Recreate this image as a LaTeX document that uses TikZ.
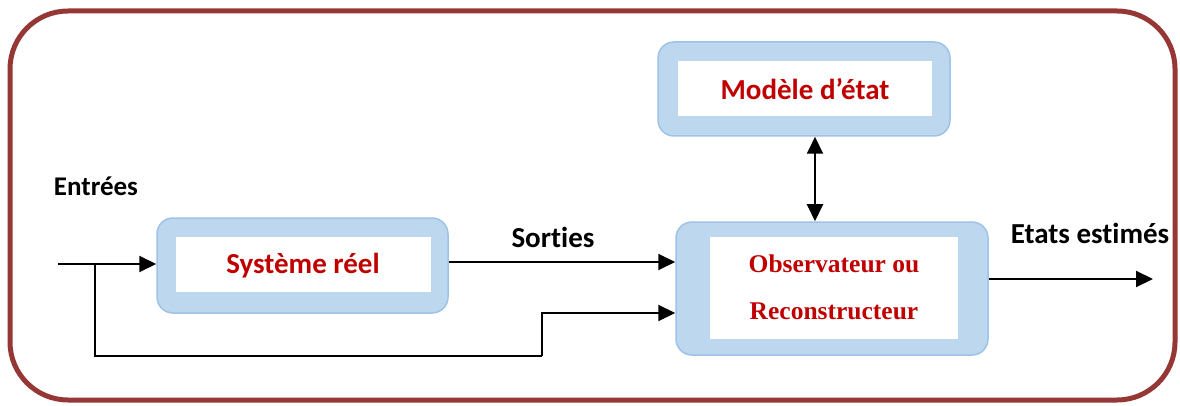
\documentclass[tikz,border=0pt]{standalone}
\usepackage{fontspec}
\setmainfont[Ligatures=NoCommon]{Carlito}
\newfontfamily\timesfont{Liberation Serif}
\usetikzlibrary{arrows.meta}
\definecolor{frame}{HTML}{953735}
\definecolor{boxfill}{HTML}{BDD7EE}
\definecolor{boxline}{HTML}{9DC3E6}
\definecolor{txtred}{HTML}{C00000}
\tikzset{
  bluebox/.style={draw=boxline, line width=1.5pt, fill=boxfill, rounded corners=16pt, inner sep=0pt},
  redlbl/.style={text=txtred, font=\bfseries\fontsize{29}{34}\selectfont},
  serlbl/.style={text=txtred, font=\timesfont\bfseries\fontsize{25.5}{47}\selectfont, align=center},
  blklbl/.style={text=black, font=\bfseries\fontsize{29}{34}\selectfont},
  arr/.style={line width=2pt, -{Triangle[length=17pt,width=16pt]}},
  darr/.style={line width=2pt, {Triangle[length=17pt,width=16pt]}-{Triangle[length=17pt,width=16pt]}},
  wire/.style={line width=2pt}
}
\begin{document}
\begin{tikzpicture}[x=1pt,y=-1pt]
\useasboundingbox (0,0) rectangle (1180,406);
% outer frame
\draw[frame, line width=5pt, rounded corners=58pt] (10,11) rectangle (1175,400);
% boxes
\node[bluebox, minimum width=291pt, minimum height=95pt] (sys) at (302.5,265.5) {};
\fill[white] (176,237) rectangle (431,292);
\node[redlbl] (syst) at (303,266) {Système réel};

\node[bluebox, minimum width=292pt, minimum height=94pt] (mod) at (804,89) {};
\fill[white] (678,61) rectangle (932,116);
\node[redlbl] (modt) at (805,89) {Modèle d’état};

\node[bluebox, minimum width=312pt, minimum height=133pt] (obs) at (832,288.5) {};
\fill[white] (710,237) rectangle (958,339);
\node[serlbl] (obst) at (834,287) {Observateur ou\\Reconstructeur};

% labels
\node[blklbl, font=\bfseries\fontsize{27}{32}\selectfont] (lin) at (96,186) {Entrées};
\node[blklbl] (lsor) at (553,237) {Sorties};
\node[blklbl] (lout) at (1090,233) {Etats estimés};

% connectors
\coordinate (in) at (58,264);
\coordinate (br) at (95,264);
\coordinate (bend) at (542,356);
\coordinate (y313) at (0,313);
\coordinate (y262) at (0,262);
\coordinate (out) at (1153,279);
\draw[arr] (in) -- (in -| sys.west);
\draw[wire] (br) |- (bend);
\draw[arr] (bend) |- (obs.west |- y313);
\draw[arr] (sys.east |- y262) -- (obs.west |- y262);
\draw[darr] ([xshift=11pt]mod.south) -- ([xshift=11pt]mod.south |- obs.north);
\draw[arr] (obs.east |- out) -- (out);
\end{tikzpicture}
\end{document}
